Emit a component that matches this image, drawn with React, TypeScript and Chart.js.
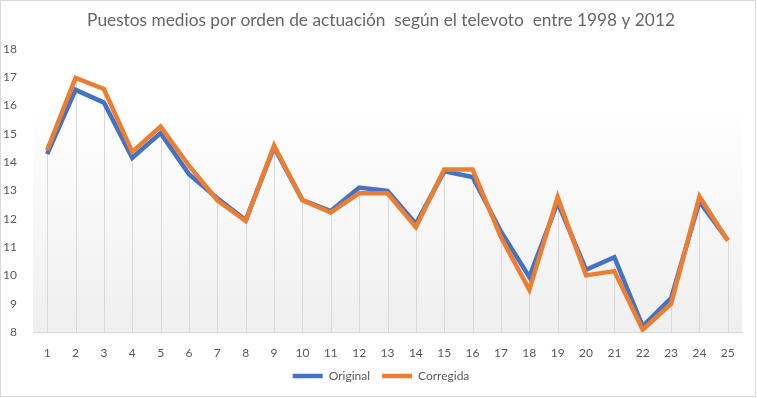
import React, { useEffect, useRef } from "react";
import { Chart, registerables } from "chart.js";

Chart.register(...registerables);

const categories = ["1","2","3","4","5","6","7","8","9","10","11","12","13","14","15","16","17","18","19","20","21","22","23","24","25"];
const original = [14.28,16.55,16.1,14.15,15.02,13.57,12.72,11.95,14.52,12.66,12.27,13.1,12.98,11.82,13.67,13.47,11.55,9.94,12.57,10.2,10.64,8.2,9.2,12.6,11.24];
const corregida = [14.42,16.97,16.58,14.36,15.25,13.87,12.65,11.92,14.58,12.65,12.22,12.9,12.9,11.7,13.74,13.74,11.35,9.49,12.76,10.0,10.15,8.08,9.0,12.78,11.22];
const yTicks = [8,9,10,11,12,13,14,15,16,17,18];
const titleText = "Puestos medios por orden de actuación  según el televoto  entre 1998 y 2012";

const bgPlugin = {
  id: "bgPlugin",
  afterLayout(chart: any) {
    const lg = chart.legend;
    if (lg) {
      lg.left += 10;
      lg.right += 10;
    }
    const tb = chart.titleBlock;
    if (tb) {
      tb.left += 10;
      tb.right += 10;
    }
  },
  beforeDraw(chart: any) {
    const { ctx, chartArea } = chart;
    ctx.save();
    ctx.fillStyle = "#ffffff";
    ctx.fillRect(0, 0, chart.width, chart.height);
    const g = ctx.createLinearGradient(0, chartArea.top, 0, chartArea.bottom);
    g.addColorStop(0, "#ffffff");
    g.addColorStop(0.2, "#ffffff");
    g.addColorStop(1, "#efefef");
    ctx.fillStyle = g;
    ctx.fillRect(chartArea.left, chartArea.top, chartArea.right - chartArea.left, chartArea.bottom - chartArea.top);
    ctx.restore();
  },
  beforeDatasetsDraw(chart: any) {
    const { ctx, chartArea, scales } = chart;
    ctx.save();
    ctx.strokeStyle = "#d9d9d9";
    ctx.lineWidth = 1;
    categories.forEach((c, i) => {
      const x = Math.round(scales.x.getPixelForValue(i)) + 0.5;
      const top = scales.y.getPixelForValue(Math.max(original[i], corregida[i]));
      ctx.beginPath();
      ctx.moveTo(x, top);
      ctx.lineTo(x, chartArea.bottom);
      ctx.stroke();
    });
    ctx.restore();
  },
  afterDraw(chart: any) {
    const { ctx } = chart;
    ctx.save();
    ctx.strokeStyle = "#d9d9d9";
    ctx.lineWidth = 1;
    ctx.strokeRect(0.5, 0.5, chart.width - 2, chart.height - 2);
    ctx.restore();
  },
};

export default function App() {
  const ref = useRef<HTMLCanvasElement>(null);
  useEffect(() => {
    document.body.style.margin = "0";
    const chart = new Chart(ref.current!, {
      type: "line",
      data: {
        labels: categories,
        datasets: [
          { label: "Original", data: original, order: 1, borderColor: "#4472C4", backgroundColor: "#4472C4", borderWidth: 4.5, pointRadius: 0, tension: 0 },
          { label: "Corregida", data: corregida, order: 0, borderColor: "#ED7D31", backgroundColor: "#ED7D31", borderWidth: 4.5, pointRadius: 0, tension: 0 },
        ],
      },
      options: {
        animation: false,
        responsive: false,
        maintainAspectRatio: false,
        layout: { padding: { left: 0, right: 15, top: 0, bottom: 6 } },
        plugins: {
          tooltip: { enabled: false },
          title: {
            display: true,
            text: titleText,
            color: "#666666",
            font: { family: "Lato", size: 17.3, weight: "normal" },
            padding: { top: 10, bottom: 18 },
          },
          legend: {
            position: "bottom",
            labels: {
              usePointStyle: true,
              pointStyle: "line",
              pointStyleWidth: 30,
              color: "#595959",
              font: { family: "Lato", size: 12 },
              boxHeight: 12,
              padding: 12,
              sort: (a: any, b: any) => a.datasetIndex - b.datasetIndex,
            },
          },
        },
        scales: {
          x: {
            offset: true,
            grid: { display: false },
            border: { display: true, color: "#d9d9d9" },
            ticks: { color: "#595959", font: { family: "Lato", size: 12 }, maxRotation: 0, autoSkip: false, padding: 6 },
            afterFit(scale: any) { scale.height = 26; },
          },
          y: {
            min: 8,
            max: 18,
            grid: { display: false },
            border: { display: false },
            afterBuildTicks(scale: any) { scale.ticks = yTicks.map((v) => ({ value: v })); },
            ticks: { color: "#595959", font: { family: "Lato", size: 12 }, padding: 8 },
            afterFit(scale: any) { scale.width = 33; },
          },
        },
      },
      plugins: [bgPlugin],
    });
    return () => chart.destroy();
  }, []);
  return <canvas ref={ref} width={757} height={398} style={{ display: "block" }} />;
}
